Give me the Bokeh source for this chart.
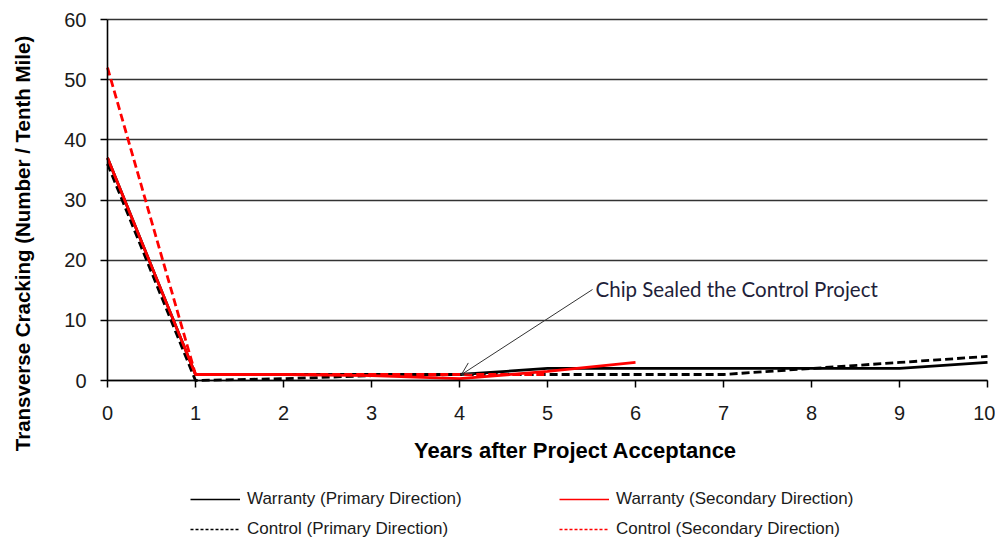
import math
from bokeh.plotting import figure
from bokeh.models import (Range1d, FixedTicker, Legend, LegendItem, Label, Arrow, OpenHead)
from bokeh.embed import file_html
from bokeh.resources import INLINE

# ---- data ----
years = [0, 1, 2, 3, 4, 5, 6, 7, 8, 9, 10]
warranty_primary = [37, 1, 1, 1, 1, 2, 2, 2, 2, 2, 3]
years_ws = [0, 1, 2, 3, 4, 5, 6]
warranty_secondary = [37, 1, 1, 0.8, 0.3, 1.5, 3]
control_primary = [36, 0, 0.3, 0.8, 1, 1, 1, 1, 2, 3, 4]
years_cs = [0, 1, 2, 3, 4, 5]
control_secondary = [52, 1, 1, 1, 1, 1]
x_ticks = [0, 1, 2, 3, 4, 5, 6, 7, 8, 9, 10]
y_ticks = [0, 10, 20, 30, 40, 50, 60]
labels = ["Warranty (Primary Direction)", "Control (Primary Direction)",
          "Warranty (Secondary Direction)", "Control (Secondary Direction)"]
y_title = "Transverse Cracking (Number / Tenth Mile)"
x_title = "Years after Project Acceptance"
note = "Chip Sealed the Control Project"

FONT = "Liberation Sans"

# ---- layout: the frame fills the canvas; axes are placed at data 0 ----
W, H = 995, 538
L, R, T, B = 107, 987, 19, 380          # plot-area edges in pixels
x0, x1 = x_ticks[0], x_ticks[-1]
y0, y1 = y_ticks[0], y_ticks[-1]
xs = (R - L) / (x1 - x0)
ys = (B - T) / (y1 - y0)

def px_x(px):
    return x0 + (px - L) / xs

def px_y(py):
    return y0 + (B - py) / ys

p = figure(width=W, height=H, output_backend="svg", toolbar_location=None,
           x_range=Range1d(px_x(0), px_x(W)), y_range=Range1d(px_y(H), px_y(0)),
           min_border_left=0, min_border_right=0, min_border_top=0, min_border_bottom=0)
p.outline_line_color = None
p.background_fill_color = "white"

p.xgrid.grid_line_color = None
p.ygrid.grid_line_color = "#333333"
p.ygrid.grid_line_width = 1.6
p.ygrid.bounds = (y0, y1)
p.ygrid.cross_bounds = (x0, x1)

for ax in (p.xaxis, p.yaxis):
    ax.fixed_location = 0
    ax.axis_line_color = "black"
    ax.axis_line_width = 1.6
    ax.major_tick_line_color = "black"
    ax.major_tick_line_width = 1.5
    ax.minor_tick_line_color = None
    ax.major_tick_in = 0
    ax.major_label_text_font = FONT
    ax.major_label_text_font_size = "20px"
    ax.major_label_text_color = "#1a1a1a"

p.xaxis.bounds = (x0, x1)
p.yaxis.bounds = (y0, y1)
p.xaxis.ticker = FixedTicker(ticks=x_ticks)
p.yaxis.ticker = FixedTicker(ticks=y_ticks)
p.xaxis.major_tick_out = 7
p.yaxis.major_tick_out = 7
p.xaxis.major_label_standoff = 18
p.yaxis.major_label_standoff = 14

p.line(years, warranty_primary, line_color="black", line_width=2.8)
p.line(years, control_primary, line_color="black", line_width=2.8, line_dash="8 4")
p.line(years_ws, warranty_secondary, line_color="#ff0000", line_width=2.8)
p.line(years_cs, control_secondary, line_color="#ff0000", line_width=2.8, line_dash="8 4")

# legend swatches (thin lines, as in the reference legend); a single NaN point draws nothing
nan = [float("nan")]
k_wp = p.line(nan, nan, line_color="black", line_width=1.3)
k_cp = p.line(nan, nan, line_color="black", line_width=1.3, line_dash="3 2")
k_ws = p.line(nan, nan, line_color="#ff0000", line_width=1.3)
k_cs = p.line(nan, nan, line_color="#ff0000", line_width=1.3, line_dash="3 2")

# titles
p.add_layout(Label(x=px_x(22), y=px_y(243), text=y_title, angle=math.pi / 2,
                   text_align="center", text_baseline="middle",
                   text_font=FONT, text_font_style="bold", text_font_size="20.5px",
                   text_color="black"))
p.add_layout(Label(x=px_x(575), y=px_y(450), text=x_title,
                   text_align="center", text_baseline="middle",
                   text_font=FONT, text_font_style="bold", text_font_size="22px",
                   text_color="black"))

# annotation
p.add_layout(Arrow(end=OpenHead(size=12, line_width=1, line_color="#333333"),
                   x_start=px_x(592), y_start=px_y(289), x_end=px_x(461), y_end=px_y(374),
                   line_color="#333333", line_width=1))
p.add_layout(Label(x=px_x(595), y=px_y(288), text=note, text_align="left", text_baseline="middle",
                   text_font="Lato", text_font_size="20.5px", text_color="#1f1f3a"))

def make_legend(items, x):
    return Legend(items=items, location=(x, -1), orientation="vertical",
                  glyph_width=50, glyph_height=20, label_height=20, label_standoff=7,
                  spacing=10, padding=0, margin=0,
                  label_text_font=FONT, label_text_font_size="17px", label_text_color="#1a1a1a",
                  border_line_color=None, background_fill_alpha=0)

p.add_layout(make_legend([LegendItem(label=labels[0], renderers=[k_wp]),
                          LegendItem(label=labels[1], renderers=[k_cp])], 190))
p.add_layout(make_legend([LegendItem(label=labels[2], renderers=[k_ws]),
                          LegendItem(label=labels[3], renderers=[k_cs])], 559))

open("out.html", "w").write(file_html(p, INLINE))
